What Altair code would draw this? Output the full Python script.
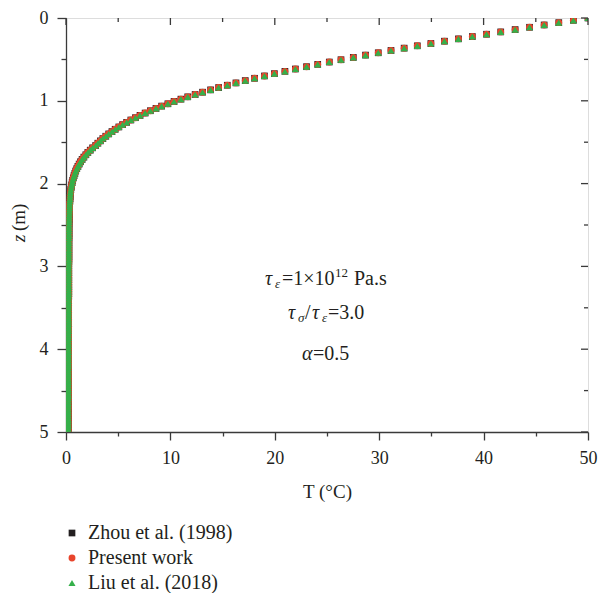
import altair as alt
import pandas as pd

# depth values (m)
z_m = [0, 0.028, 0.056, 0.084, 0.112, 0.14, 0.168, 0.196, 0.224, 0.252,
       0.28, 0.308, 0.336, 0.364, 0.392, 0.42, 0.448, 0.476, 0.504, 0.532,
       0.56, 0.588, 0.616, 0.644, 0.672, 0.7, 0.728, 0.756, 0.784, 0.812,
       0.84, 0.868, 0.896, 0.924, 0.952, 0.98, 1.008, 1.036, 1.064, 1.092,
       1.12, 1.148, 1.176, 1.204, 1.232, 1.26, 1.288, 1.316, 1.344, 1.372,
       1.4, 1.428, 1.456, 1.484, 1.512, 1.54, 1.568, 1.596, 1.624, 1.652,
       1.68, 1.708, 1.736, 1.764, 1.792, 1.82, 1.848, 1.876, 1.904, 1.932,
       1.96, 1.988, 2.016, 2.044, 2.072, 2.1, 2.128, 2.156, 2.184, 2.212,
       2.24, 2.268, 2.296, 2.324, 2.352, 2.38, 2.408, 2.436, 2.464, 2.492,
       2.52, 2.548, 2.576, 2.604, 2.632, 2.66, 2.688, 2.716, 2.744, 2.772,
       2.8, 2.828, 2.856, 2.884, 2.912, 2.94, 2.968, 2.996, 3.024, 3.052,
       3.08, 3.108, 3.136, 3.164, 3.192, 3.22, 3.248, 3.276, 3.304, 3.332,
       3.36, 3.388, 3.416, 3.444, 3.472, 3.5, 3.528, 3.556, 3.584, 3.612,
       3.64, 3.668, 3.696, 3.724, 3.752, 3.78, 3.808, 3.836, 3.864, 3.892,
       3.92, 3.948, 3.976, 4.004, 4.032, 4.06, 4.088, 4.116, 4.144, 4.172,
       4.2, 4.228, 4.256, 4.284, 4.312, 4.34, 4.368, 4.396, 4.424, 4.452,
       4.48, 4.508, 4.536, 4.564, 4.592, 4.62, 4.648, 4.676, 4.704, 4.732,
       4.76, 4.788, 4.816, 4.844, 4.872, 4.9, 4.928, 4.956, 4.984]

# temperature values (°C)
t_c = [50.00, 48.60, 47.20, 45.80, 44.40, 43.02, 41.64, 40.28, 38.92, 37.59,
       36.25, 34.95, 33.65, 32.39, 31.13, 29.91, 28.69, 27.52, 26.34, 25.22,
       24.11, 23.04, 21.97, 20.97, 19.96, 19.01, 18.06, 17.17, 16.28, 15.45,
       14.62, 13.85, 13.08, 12.37, 11.66, 11.01, 10.35, 9.76, 9.16, 8.62,
       8.08, 7.58, 7.09, 6.65, 6.21, 5.81, 5.42, 5.06, 4.71, 4.40,
       4.09, 3.81, 3.53, 3.29, 3.05, 2.84, 2.55, 2.32, 2.09, 1.90,
       1.71, 1.54, 1.39, 1.26, 1.14, 1.03, 0.93, 0.85, 0.77, 0.70,
       0.64, 0.59, 0.54, 0.50, 0.46, 0.43, 0.41, 0.39, 0.38, 0.37,
       0.35, 0.34, 0.34, 0.33, 0.32, 0.31, 0.30, 0.30, 0.29, 0.29,
       0.28, 0.28, 0.28, 0.28, 0.28, 0.28, 0.27, 0.27, 0.27, 0.27,
       0.27, 0.27, 0.27, 0.27, 0.27, 0.27, 0.26, 0.26, 0.26, 0.26,
       0.26, 0.26, 0.26, 0.26, 0.26, 0.26, 0.26, 0.26, 0.26, 0.26,
       0.26, 0.25, 0.25, 0.25, 0.25, 0.25, 0.25, 0.25, 0.25, 0.25,
       0.25, 0.25, 0.25, 0.25, 0.25, 0.25, 0.24, 0.24, 0.24, 0.24,
       0.24, 0.24, 0.24, 0.24, 0.24, 0.24, 0.24, 0.24, 0.24, 0.24,
       0.24, 0.23, 0.23, 0.23, 0.23, 0.23, 0.23, 0.23, 0.23, 0.23,
       0.23, 0.23, 0.23, 0.23, 0.23, 0.23, 0.22, 0.22, 0.22, 0.22,
       0.22, 0.22, 0.22, 0.22, 0.22, 0.22, 0.22, 0.22, 0.22]

series_names = ["Zhou et al. (1998)", "Present work", "Liu et al. (2018)"]
series_colors = ["#231f20", "#e8452c", "#35b04a"]
series_shapes = ["square", "circle", "triangle-up"]
series_sizes = [45, 50, 75]

x_ticks = [0, 5, 10, 15, 20, 25, 30, 35, 40, 45, 50]
x_major = [0, 10, 20, 30, 40, 50]
x_minor = [5, 15, 25, 35, 45]
y_ticks = [0, 0.5, 1, 1.5, 2, 2.5, 3, 3.5, 4, 4.5, 5]
y_major = [0, 1, 2, 3, 4, 5]
y_minor = [0.5, 1.5, 2.5, 3.5, 4.5]

rows = []
for name in series_names:
    for z, t in zip(z_m, t_c):
        rows.append({"series": name, "T": t, "z": z})
df = pd.DataFrame(rows)

W, H = 522, 414
FONT = "Liberation Serif"
INK = "#3a3a3a"
TXT = "#231f20"

xscale = alt.Scale(domain=[0, 50], nice=False, zero=False)
yscale = alt.Scale(domain=[0, 5], reverse=True, nice=False, zero=False)

x_axis = alt.Axis(
    values=x_ticks,
    labelExpr="datum.value % 10 === 0 ? format(datum.value, 'd') : ''",
    tickSize={"condition": {"test": "datum.value % 10 === 0", "value": 8}, "value": 4},
    title="T (°C)", titleFont=FONT, titleFontSize=19, titleFontWeight="normal",
    titleColor=TXT, titlePadding=15, labelFont=FONT, labelFontSize=18,
    labelColor=TXT, labelPadding=9, grid=False, domainColor=INK,
    domainWidth=1.3, tickColor=INK, tickWidth=1.3, labelFlush=False)
y_axis = alt.Axis(
    values=y_ticks,
    labelExpr="datum.value % 1 === 0 ? format(datum.value, 'd') : ''",
    tickSize={"condition": {"test": "datum.value % 1 === 0", "value": 9}, "value": 5},
    title=None, labelFont=FONT, labelFontSize=18, labelColor=TXT,
    labelPadding=9, grid=False, domainColor=INK, domainWidth=1.3,
    tickColor=INK, tickWidth=1.3, labelFlush=False)

legend_kw = dict(
    title=None, orient="none", legendX=-4, legendY=505, direction="vertical",
    labelFont=FONT, labelFontSize=20, labelColor=TXT, symbolSize=40,
    symbolStrokeWidth=0, rowPadding=5, labelOffset=6, padding=0,
)

points = alt.Chart(df).mark_point(filled=True, opacity=1, clip=True).encode(
    x=alt.X("T:Q", scale=xscale, axis=x_axis),
    y=alt.Y("z:Q", scale=yscale, axis=y_axis),
    color=alt.Color("series:N", scale=alt.Scale(domain=series_names, range=series_colors),
                    legend=alt.Legend(**legend_kw)),
    shape=alt.Shape("series:N", scale=alt.Scale(domain=series_names, range=series_shapes),
                    legend=alt.Legend(**legend_kw)),
    size=alt.Size("series:N", scale=alt.Scale(domain=series_names, range=series_sizes),
                  legend=None),
)

def top_ticks(vals, length):
    return alt.Chart(pd.DataFrame({"T": vals})).mark_rule(color=INK, strokeWidth=1.3).encode(
        x=alt.X("T:Q", scale=xscale, axis=x_axis), y=alt.value(0), y2=alt.value(length))

def right_ticks(vals, length):
    return alt.Chart(pd.DataFrame({"z": vals})).mark_rule(color=INK, strokeWidth=1.3).encode(
        y=alt.Y("z:Q", scale=yscale, axis=y_axis), x=alt.value(W), x2=alt.value(W - length))

def piece(text, T, z, dx, dy=0, size=20, italic=False):
    return alt.Chart(pd.DataFrame({"T": [T], "z": [z], "t": [text]})).mark_text(
        align="left", baseline="alphabetic", dx=dx, dy=dy, font=FONT, fontSize=size,
        fontStyle="italic" if italic else "normal", color=TXT).encode(
        x=alt.X("T:Q", scale=xscale, axis=x_axis), y=alt.Y("z:Q", scale=yscale, axis=y_axis),
        text="t:N")

ANN_T = 25
L1, L2, L3 = 3.23, 3.63, 4.13
annotations = [
    piece("τ", ANN_T, L1, -62, italic=True),
    piece("ε", ANN_T, L1, -52, dy=3, size=13, italic=True),
    piece("=1×10", ANN_T, L1, -45),
    piece("12", ANN_T, L1, 8, dy=-8, size=13),
    piece("Pa.s", ANN_T, L1, 27),
    piece("τ", ANN_T, L2, -39, italic=True),
    piece("σ", ANN_T, L2, -29, dy=3, size=13, italic=True),
    piece("/", ANN_T, L2, -22),
    piece("τ", ANN_T, L2, -15, italic=True),
    piece("ε", ANN_T, L2, -5, dy=3, size=13, italic=True),
    piece("=3.0", ANN_T, L2, 1),
    piece("α", ANN_T, L3, -25, italic=True),
    piece("=0.5", ANN_T, L3, -14),
]

def ytitle(text, ypix, italic):
    return alt.Chart(pd.DataFrame({"t": [text]})).mark_text(
        align="left", baseline="middle", angle=270, font=FONT, fontSize=19,
        fontStyle="italic" if italic else "normal", color=TXT).encode(
        x=alt.value(-47), y=alt.value(ypix), text="t:N")

chart = alt.layer(
    points,
    top_ticks(x_major, 7), top_ticks(x_minor, 4),
    right_ticks(y_major, 7), right_ticks(y_minor, 4),
    *annotations,
    ytitle("z", 224, True), ytitle("(m)", 213, False),
).properties(
    width=W, height=H,
    autosize="none",
    padding={"left": 58, "top": 10, "right": 10, "bottom": 161},
).configure_view(
    stroke=INK, strokeWidth=1.3
).configure(background="white")

chart.save("out.html", embed_options={"renderer": "svg", "actions": False})
